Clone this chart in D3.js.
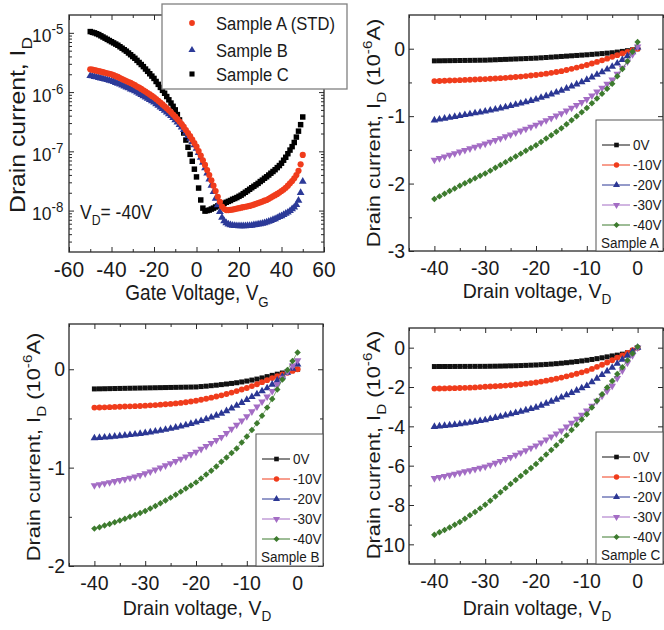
<!DOCTYPE html>
<html><head><meta charset="utf-8">
<script src="https://cdn.jsdelivr.net/npm/d3@7"></script>
<style>
body{margin:0;background:#fff}
svg{display:block}
text{font-family:"Liberation Sans",Arial,sans-serif;fill:#1a1a1a}
</style>
</head><body>
<svg id="c" width="664" height="630"></svg>
<script>
// ---------- DATA ----------
const gateVoltage = d3.range(-50, 51);           // V_G sweep, 1 V step
// transfer curves at V_D = -40 V, drain current in nA
const sampleA_nA = [2430,2390,2340,2300,2260,2210,2170,2120,2080,2040,
 2000,1930,1860,1800,1730,1660,1600,1540,1480,1430,
 1370,1310,1240,1190,1130,1070,1020,964,912,863,
 817,764,714,667,619,575,533,493,455,419,
 385,351,318,288,258,229,204,180,158,138,
 120,101,85.1,70.8,58.9,48.4,39.8,32.4,26.3,21.4,
 17.1,14.1,11.7,10.7,10.2,10.2,10.3,10.4,10.6,10.8,
 11.0,11.2,11.4,11.6,11.8,12.0,12.3,12.6,13.0,13.4,
 13.8,14.2,14.7,15.1,15.8,16.6,17.4,18.2,19.1,20.2,
 21.4,22.6,24.3,26.3,28.8,31.6,35.1,39.8,46.8,60.3,
 87.1];
const sampleB_nA = [1890,1860,1820,1790,1750,1710,1680,1640,1610,1570,
 1540,1490,1440,1400,1350,1300,1260,1210,1170,1120,
 1080,1040,991,946,904,861,820,782,743,706,
 671,632,594,557,522,489,457,427,398,367,
 338,309,282,256,231,207,184,164,145,128,
 112,94.4,78.5,64.6,52.5,42.6,33.9,26.6,20.7,16.0,
 12.4,9.55,7.67,6.68,6.17,5.89,5.73,5.62,5.56,5.52,
 5.50,5.50,5.50,5.51,5.53,5.56,5.62,5.69,5.77,5.86,
 5.96,6.07,6.19,6.34,6.52,6.76,7.00,7.24,7.53,7.85,
 8.13,8.51,8.91,9.33,9.89,10.6,11.4,12.6,14.8,20.0,
 30.9];
const sampleC_nA = [10500,10200,10000,9660,9330,8910,8510,8130,7760,7410,
 7080,6760,6460,6170,5820,5500,5190,4900,4570,4270,
 3980,3720,3430,3160,2920,2690,2450,2240,2040,1860,
 1700,1510,1350,1200,1070,955,841,741,653,575,
 501,417,339,269,204,155,117,89,68,50,
 37,24,15.1,11.0,9.8,10.0,10.2,10.6,11.0,11.5,
 12.0,12.4,12.9,13.3,13.8,14.3,14.8,15.5,16.0,16.6,
 17.4,18.2,19.3,20.4,21.6,22.9,24.3,25.7,27.2,28.8,
 30.9,32.7,35.1,37.2,39.8,42.7,45.7,49.0,53.1,57.5,
 63.1,70.8,79.4,91.2,105,120,141,174,219,282,
 380];
const transferNames = ["Sample A (STD)", "Sample B", "Sample C"];
const transferTicks = [1e-8, 1e-7, 1e-6, 1e-5];
const transferExps = ["-8", "-7", "-6", "-5"];
const gateTicks = [-60, -40, -20, 0, 20, 40, 60];

const drainVoltage = d3.range(-40, 1);           // V_D sweep, 1 V step
const gateLabels = ["0V", "-10V", "-20V", "-30V", "-40V"];
const drainTicks = [-40, -30, -20, -10, 0];
// output curves, drain current in 1e-6 A
const outA_0V  = [-0.180,-0.179,-0.178,-0.177,-0.176,-0.175,-0.174,-0.173,-0.172,-0.171,-0.170,-0.167,-0.164,-0.161,-0.158,-0.155,-0.152,-0.149,-0.146,-0.143,-0.140,-0.135,-0.130,-0.125,-0.120,-0.115,-0.110,-0.105,-0.100,-0.095,-0.090,-0.084,-0.078,-0.072,-0.066,-0.060,-0.050,-0.040,-0.029,-0.016,0.000];
const outA_10V = [-0.480,-0.478,-0.475,-0.472,-0.469,-0.466,-0.463,-0.460,-0.456,-0.453,-0.450,-0.446,-0.442,-0.437,-0.432,-0.426,-0.420,-0.413,-0.406,-0.398,-0.390,-0.380,-0.370,-0.358,-0.346,-0.333,-0.316,-0.298,-0.280,-0.261,-0.242,-0.219,-0.196,-0.172,-0.147,-0.121,-0.096,-0.071,-0.047,-0.023,0.000];
const outA_20V = [-1.060,-1.047,-1.034,-1.021,-1.008,-0.995,-0.982,-0.969,-0.956,-0.943,-0.930,-0.914,-0.898,-0.882,-0.865,-0.848,-0.830,-0.811,-0.791,-0.771,-0.750,-0.726,-0.701,-0.675,-0.648,-0.620,-0.590,-0.559,-0.527,-0.494,-0.460,-0.423,-0.385,-0.346,-0.305,-0.264,-0.216,-0.164,-0.110,-0.050,0.020];
const outA_30V = [-1.650,-1.625,-1.600,-1.576,-1.552,-1.528,-1.504,-1.480,-1.456,-1.433,-1.410,-1.383,-1.356,-1.329,-1.302,-1.274,-1.246,-1.217,-1.188,-1.159,-1.130,-1.097,-1.064,-1.030,-0.995,-0.960,-0.920,-0.879,-0.837,-0.794,-0.750,-0.695,-0.639,-0.581,-0.522,-0.460,-0.373,-0.284,-0.192,-0.085,0.030];
const outA_40V = [-2.230,-2.190,-2.150,-2.111,-2.072,-2.033,-1.995,-1.958,-1.921,-1.885,-1.850,-1.808,-1.766,-1.724,-1.682,-1.640,-1.598,-1.556,-1.514,-1.472,-1.430,-1.382,-1.333,-1.283,-1.232,-1.180,-1.121,-1.062,-1.002,-0.941,-0.880,-0.810,-0.739,-0.667,-0.594,-0.520,-0.410,-0.300,-0.185,-0.045,0.100];
const outB_0V  = [-0.200,-0.199,-0.198,-0.197,-0.196,-0.195,-0.194,-0.193,-0.192,-0.191,-0.190,-0.189,-0.188,-0.187,-0.186,-0.185,-0.184,-0.183,-0.182,-0.181,-0.180,-0.176,-0.172,-0.167,-0.162,-0.156,-0.150,-0.144,-0.137,-0.129,-0.120,-0.110,-0.100,-0.088,-0.075,-0.062,-0.050,-0.038,-0.025,-0.012,0.000];
const outB_10V = [-0.390,-0.389,-0.387,-0.385,-0.383,-0.381,-0.379,-0.377,-0.375,-0.373,-0.370,-0.367,-0.364,-0.360,-0.356,-0.352,-0.347,-0.342,-0.336,-0.328,-0.320,-0.310,-0.300,-0.289,-0.277,-0.265,-0.251,-0.237,-0.222,-0.206,-0.190,-0.171,-0.152,-0.131,-0.111,-0.090,-0.071,-0.053,-0.035,-0.017,0.000];
const outB_20V = [-0.700,-0.696,-0.692,-0.688,-0.683,-0.678,-0.673,-0.667,-0.661,-0.655,-0.648,-0.640,-0.632,-0.623,-0.613,-0.603,-0.592,-0.580,-0.567,-0.554,-0.540,-0.524,-0.507,-0.489,-0.470,-0.450,-0.424,-0.397,-0.369,-0.340,-0.310,-0.281,-0.252,-0.222,-0.191,-0.155,-0.114,-0.074,-0.034,0.008,0.050];
const outB_30V = [-1.180,-1.170,-1.160,-1.150,-1.139,-1.128,-1.117,-1.105,-1.093,-1.077,-1.060,-1.041,-1.021,-1.000,-0.979,-0.957,-0.935,-0.912,-0.888,-0.864,-0.840,-0.811,-0.782,-0.752,-0.721,-0.690,-0.649,-0.607,-0.565,-0.523,-0.480,-0.430,-0.380,-0.330,-0.278,-0.222,-0.155,-0.088,-0.025,0.035,0.090];
const outB_40V = [-1.620,-1.605,-1.589,-1.572,-1.555,-1.537,-1.519,-1.500,-1.481,-1.461,-1.440,-1.415,-1.389,-1.362,-1.334,-1.305,-1.275,-1.244,-1.213,-1.181,-1.150,-1.111,-1.071,-1.031,-0.988,-0.940,-0.896,-0.851,-0.805,-0.745,-0.683,-0.618,-0.550,-0.472,-0.390,-0.302,-0.205,-0.105,-0.008,0.085,0.170];
const outC_0V  = [-0.960,-0.959,-0.958,-0.957,-0.956,-0.955,-0.954,-0.953,-0.952,-0.951,-0.950,-0.946,-0.942,-0.937,-0.931,-0.925,-0.918,-0.910,-0.900,-0.890,-0.880,-0.866,-0.851,-0.834,-0.813,-0.790,-0.764,-0.736,-0.706,-0.674,-0.640,-0.600,-0.558,-0.514,-0.468,-0.420,-0.380,-0.330,-0.260,-0.150,0.000];
const outC_10V = [-2.080,-2.075,-2.070,-2.064,-2.058,-2.050,-2.042,-2.032,-2.021,-2.006,-1.990,-1.975,-1.960,-1.944,-1.927,-1.910,-1.885,-1.858,-1.830,-1.800,-1.770,-1.725,-1.678,-1.629,-1.576,-1.520,-1.458,-1.394,-1.326,-1.255,-1.180,-1.080,-0.976,-0.867,-0.755,-0.640,-0.515,-0.390,-0.262,-0.132,0.000];
const outC_20V = [-4.020,-3.995,-3.970,-3.945,-3.918,-3.890,-3.850,-3.810,-3.767,-3.724,-3.680,-3.621,-3.562,-3.502,-3.441,-3.380,-3.314,-3.247,-3.179,-3.110,-3.040,-2.940,-2.839,-2.737,-2.634,-2.530,-2.413,-2.295,-2.176,-2.058,-1.940,-1.754,-1.568,-1.382,-1.196,-1.010,-0.808,-0.606,-0.404,-0.202,0.000];
const outC_30V = [-6.640,-6.585,-6.530,-6.474,-6.418,-6.360,-6.300,-6.239,-6.177,-6.114,-6.050,-5.958,-5.864,-5.768,-5.670,-5.570,-5.455,-5.338,-5.220,-5.100,-4.980,-4.830,-4.680,-4.528,-4.375,-4.220,-4.022,-3.822,-3.620,-3.416,-3.210,-2.958,-2.705,-2.451,-2.196,-1.940,-1.552,-1.164,-0.776,-0.388,0.000];
const outC_40V = [-9.510,-9.390,-9.268,-9.142,-9.010,-8.870,-8.700,-8.527,-8.351,-8.172,-7.990,-7.778,-7.566,-7.354,-7.142,-6.930,-6.726,-6.522,-6.318,-6.114,-5.910,-5.674,-5.438,-5.202,-4.966,-4.730,-4.460,-4.190,-3.920,-3.650,-3.380,-3.042,-2.704,-2.366,-2.028,-1.690,-1.342,-0.994,-0.646,-0.298,0.050];
const panelA_ticks = [0, -1, -2, -3];
const panelB_ticks = [0, -1, -2];
const panelC_ticks = [0, -2, -4, -6, -8, -10];

// ---------- HELPERS ----------
const svg = d3.select("#c");
const STRETCH = 1.1;
const INK = "#2a2a2a";

function label(g, x, y, parts, o) {
  const size = o.size, s = o.s || STRETCH;
  const t = g.append("text")
    .attr("transform", `translate(${x},${y}) scale(1,${s})` + (o.rot ? ` rotate(${o.rot})` : ""))
    .attr("text-anchor", o.anchor || "start")
    .attr("font-size", size);
  let shift = 0;
  parts.forEach(p => {
    const [str, type] = typeof p === "string" ? [p, "n"] : p;
    const target = type === "sub" ? size * 0.32 : type === "sup" ? -size * 0.42 : 0;
    t.append("tspan").text(str).attr("dy", target - shift)
      .attr("font-size", type === "n" ? size : size * (o.small || 0.7));
    shift = target;
  });
  return t;
}

const sym = {
  square: d3.symbol().type(d3.symbolSquare),
  circle: d3.symbol().type(d3.symbolCircle),
  tri: d3.symbol().type(d3.symbolTriangle),
  diamond: d3.symbol().type(d3.symbolSquare)
};
function marker(g, kind, x, y, size, color) {
  let path, rot = 0;
  if (kind === "square") path = sym.square.size(size)();
  else if (kind === "circle") path = sym.circle.size(size)();
  else if (kind === "tri") path = sym.tri.size(size)();
  else if (kind === "tridown") { path = sym.tri.size(size)(); rot = 180; }
  else { path = sym.diamond.size(size)(); rot = 45; }
  g.append("path").attr("d", path).attr("fill", color)
    .attr("transform", `translate(${x},${y}) rotate(${rot})`);
}

function ticks(g, scale, vals, orient, pos, len) {
  let axis;
  if (orient === "bottom") axis = d3.axisBottom(scale);
  else if (orient === "top") axis = d3.axisTop(scale);
  else if (orient === "left") axis = d3.axisLeft(scale);
  else axis = d3.axisRight(scale);
  axis.tickValues(vals).tickFormat("").tickSizeInner(-len).tickSizeOuter(0);
  const a = g.append("g")
    .attr("transform", orient === "bottom" || orient === "top" ? `translate(0,${pos})` : `translate(${pos},0)`)
    .call(axis);
  a.select(".domain").remove();
  a.selectAll("line").attr("stroke", INK).attr("stroke-width", 1);
}

// ---------- PANEL 1: transfer curves ----------
(function () {
  const g = svg.append("g");
  const L = 69, R = 324, T = 15, B = 252;
  const x = d3.scaleLinear().domain([-60, 60]).range([L, R]);
  const y = d3.scaleLog().domain([2e-9, 2e-5]).range([B, T]);
  const toA = v => v * 1e-9;

  const series = [
    {vals: sampleC_nA, kind: "square", color: "#000000", size: 30},
    {vals: sampleB_nA, kind: "tri", color: "#2c3a98", size: 26},
    {vals: sampleA_nA, kind: "circle", color: "#f03c1c", size: 30}
  ];
  g.append("clipPath").attr("id", "clip1").append("rect")
    .attr("x", L).attr("y", T).attr("width", R - L).attr("height", B - T);
  const pg = g.append("g").attr("clip-path", "url(#clip1)");
  series.forEach(s => {
    s.vals.forEach((v, i) => marker(pg, s.kind, x(gateVoltage[i]), y(toA(v)), s.size, s.color));
  });

  const minor = [-50, -30, -10, 10, 30, 50];
  ticks(g, x, gateTicks, "bottom", B, 5); ticks(g, x, minor, "bottom", B, 3);
  ticks(g, x, gateTicks, "top", T, 5); ticks(g, x, minor, "top", T, 3);
  const minorLog = [];
  [-9, -8, -7, -6, -5].forEach(e => { for (let k = 2; k <= 9; k++) { const v = k * Math.pow(10, e); if (v > 2e-9 && v < 2e-5) minorLog.push(v); } });
  ticks(g, y, transferTicks, "left", L, 5); ticks(g, y, minorLog, "left", L, 3);
  ticks(g, y, transferTicks, "right", R, 5); ticks(g, y, minorLog, "right", R, 3);
  g.append("rect").attr("x", L).attr("y", T).attr("width", R - L).attr("height", B - T)
    .attr("fill", "none").attr("stroke", INK).attr("stroke-width", 1.3);

  gateTicks.forEach(v => label(g, x(v), 276.5, [String(v)], {size: 21, anchor: "middle", s: 1.06}));
  transferTicks.forEach((v, i) => label(g, 32, y(v) + 9.5, ["10", [transferExps[i], "sup"]], {size: 17.5, small: 0.76}));
  label(g, 197, 300, ["Gate Voltage, V", ["G", "sub"]], {size: 19, anchor: "middle", s: 1.16});
  label(g, 25, 125, ["Drain current, I", ["D", "sub"]], {size: 21.5, anchor: "middle", rot: -90, s: 1.15});
  label(g, 80, 219, ["V", ["D", "sub"], "= -40V"], {size: 17.5, s: 1.15});

  // legend
  const lg = g.append("g");
  lg.append("rect").attr("x", 162).attr("y", 4).attr("width", 185).attr("height", 85)
    .attr("fill", "#fff").attr("stroke", "#808080").attr("stroke-width", 1.3);
  const order = [
    {kind: "circle", color: "#f03c1c", size: 26},
    {kind: "tri", color: "#2c3a98", size: 22},
    {kind: "square", color: "#000000", size: 26}
  ];
  const rowsY = [23, 50, 74];
  order.forEach((o, i) => {
    marker(lg, o.kind, 192, rowsY[i], o.size, o.color);
    label(lg, 216, rowsY[i] + 6.8, [transferNames[i]], {size: 16.6, s: 1.15});
  });
})();

// ---------- OUTPUT PANELS ----------
const outColors = ["#111111", "#f03c1c", "#2b3794", "#a36cc4", "#3d7b2e"];
const outKinds = ["square", "circle", "tri", "tridown", "diamond"];
const outSizes = [25, 27, 25, 25, 21];

function outputPanel(cfg) {
  const g = svg.append("g");
  const {L, R, T, B} = cfg;
  const x = d3.scaleLinear().domain([-45, 5]).range([L, R]);
  const y = d3.scaleLinear().domain(cfg.ydom).range([B, T]);
  const id = "clip" + cfg.name.replace(" ", "");
  g.append("clipPath").attr("id", id).append("rect")
    .attr("x", L).attr("y", T).attr("width", R - L).attr("height", B - T);
  const pg = g.append("g").attr("clip-path", `url(#${id})`);
  const line = d3.line().x((d, i) => x(drainVoltage[i])).y(d => y(d));
  cfg.series.forEach((vals, k) => {
    pg.append("path").attr("d", line(vals)).attr("fill", "none")
      .attr("stroke", outColors[k]).attr("stroke-width", 0.8).attr("opacity", 0.8);
    vals.forEach((v, i) => marker(pg, outKinds[k], x(drainVoltage[i]), y(v), outSizes[k], outColors[k]));
  });

  const xMinor = [-45, -35, -25, -15, -5, 5];
  ticks(g, x, drainTicks, "bottom", B, 5); ticks(g, x, xMinor, "bottom", B, 3);
  ticks(g, x, drainTicks, "top", T, 5); ticks(g, x, xMinor, "top", T, 3);
  ticks(g, y, cfg.yticks, "left", L, 5); ticks(g, y, cfg.yminor, "left", L, 3);
  ticks(g, y, cfg.yticks, "right", R, 5); ticks(g, y, cfg.yminor, "right", R, 3);
  g.append("rect").attr("x", L).attr("y", T).attr("width", R - L).attr("height", B - T)
    .attr("fill", "none").attr("stroke", INK).attr("stroke-width", 1.3);

  drainTicks.forEach(v => label(g, x(v), B + 23.5, [String(v)], {size: 19.5, anchor: "middle", s: 1.0}));
  cfg.yticks.forEach(v => label(g, L - 4, y(v) + 7.2, [String(v)], {size: 19.5, anchor: "end", s: 1.05}));
  label(g, (L + R) / 2 + 1, cfg.xtY, ["Drain voltage, V", ["D", "sub"]], {size: 19.5, anchor: "middle", s: 1.02});
  label(g, cfg.ytX, cfg.ytY, ["Drain current, I", ["D", "sub"], "  (10", ["-6", "sup"], "A)"],
    {size: 19, anchor: "middle", rot: -90, s: 1.15});

  // legend
  const lg = g.append("g");
  const bx = cfg.lx, by = cfg.ly;
  lg.append("rect").attr("x", bx).attr("y", by).attr("width", R - bx).attr("height", B - by)
    .attr("fill", "#fff").attr("stroke", "#555").attr("stroke-width", 1);
  gateLabels.forEach((name, k) => {
    const ry = by + 25 + 20 * k;
    lg.append("line").attr("x1", bx + 6).attr("x2", bx + 34).attr("y1", ry).attr("y2", ry)
      .attr("stroke", outColors[k]).attr("stroke-width", 1);
    marker(lg, outKinds[k], bx + 20.5, ry, outSizes[k] * 0.85, outColors[k]);
    label(lg, bx + 37, ry + 5, [name], {size: 13.5, s: 1.05});
  });
  label(lg, bx + 5, by + 128, [cfg.name], {size: 13.5, s: 1.05});
}

outputPanel({name: "Sample A", L: 409, R: 663, T: 15, B: 251, ydom: [-3, 0.5],
  yticks: panelA_ticks, yminor: [-0.5, -1.5, -2.5],
  series: [outA_0V, outA_10V, outA_20V, outA_30V, outA_40V],
  xtY: 298, ytX: 380, ytY: 133, lx: 596, ly: 120});
outputPanel({name: "Sample B", L: 69, R: 323, T: 324, B: 566, ydom: [-2, 0.46],
  yticks: panelB_ticks, yminor: [-0.5, -1.5],
  series: [outB_0V, outB_10V, outB_20V, outB_30V, outB_40V],
  xtY: 615, ytX: 40, ytY: 447, lx: 256, ly: 434});
outputPanel({name: "Sample C", L: 409, R: 663, T: 328, B: 564, ydom: [-11, 1],
  yticks: panelC_ticks, yminor: [-1, -3, -5, -7, -9],
  series: [outC_0V, outC_10V, outC_20V, outC_30V, outC_40V],
  xtY: 615, ytX: 380, ytY: 445, lx: 596, ly: 432});
</script>
</body></html>
